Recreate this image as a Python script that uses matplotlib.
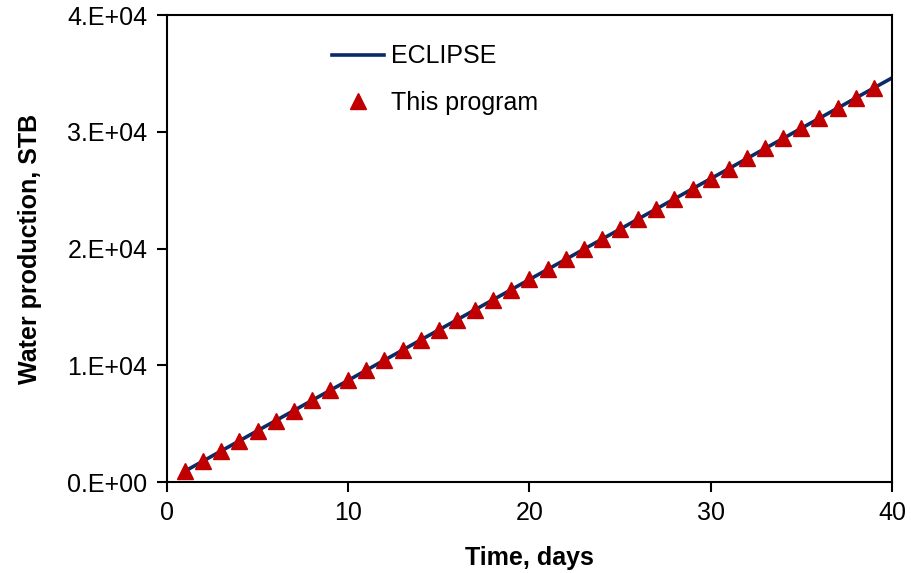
import numpy as np
import matplotlib.pyplot as plt
import matplotlib.ticker as mticker

plt.rcParams['font.family'] = ['Liberation Sans', 'DejaVu Sans']
plt.rcParams['font.size'] = 18

# cumulative water production, STB
eclipse_days = list(range(1, 41))
eclipse_wp = [940, 1800, 2670, 3530, 4400, 5260, 6120, 6990, 7850, 8710,
              9580, 10440, 11300, 12170, 13030, 13890, 14760, 15620, 16480, 17350,
              18210, 19070, 19940, 20800, 21660, 22530, 23390, 24250, 25120, 25980,
              26840, 27710, 28570, 29430, 30300, 31160, 32020, 32890, 33750, 34610]

program_days = list(range(1, 40))
program_wp = [940, 1800, 2670, 3530, 4400, 5260, 6120, 6990, 7850, 8710,
              9580, 10440, 11300, 12170, 13030, 13890, 14760, 15620, 16480, 17350,
              18210, 19070, 19940, 20800, 21660, 22530, 23390, 24250, 25120, 25980,
              26840, 27710, 28570, 29430, 30300, 31160, 32020, 32890, 33750]

fig = plt.figure(figsize=(9.11, 5.73), dpi=100)
ax = fig.add_axes([0.1833, 0.1588, 0.7958, 0.8150])

ax.plot(eclipse_days, eclipse_wp, color='#0B2A66', lw=2.6, label='ECLIPSE', zorder=2)
ax.plot(program_days, program_wp, ls='', marker='^', ms=11, color='#C00000',
        mec='#C00000', label='This program', zorder=3)

ax.set_xlim(0, 40)
ax.set_ylim(0, 40000)
ax.set_xticks([0, 10, 20, 30, 40])
ax.set_yticks([0, 10000, 20000, 30000, 40000])


def sci_fmt(v, pos):
    if v == 0:
        return '0.E+00'
    return '%d.E+04' % round(v / 1e4)


ax.yaxis.set_major_formatter(mticker.FuncFormatter(sci_fmt))
ax.tick_params(direction='out', length=7, width=1.5, labelsize=18, pad=7)
for s in ax.spines.values():
    s.set_linewidth(1.5)

ax.set_xlabel('Time, days', fontweight='bold', fontsize=18, labelpad=15)
ax.set_ylabel('Water production, STB', fontweight='bold', fontsize=18, labelpad=18)

ax.legend(loc='upper left', bbox_to_anchor=(0.2276, 0.937), frameon=False,
          borderpad=0, borderaxespad=0, handlelength=2.1, labelspacing=0.9,
          handletextpad=0.25, fontsize=18)

fig.savefig('out.png', dpi=100)
